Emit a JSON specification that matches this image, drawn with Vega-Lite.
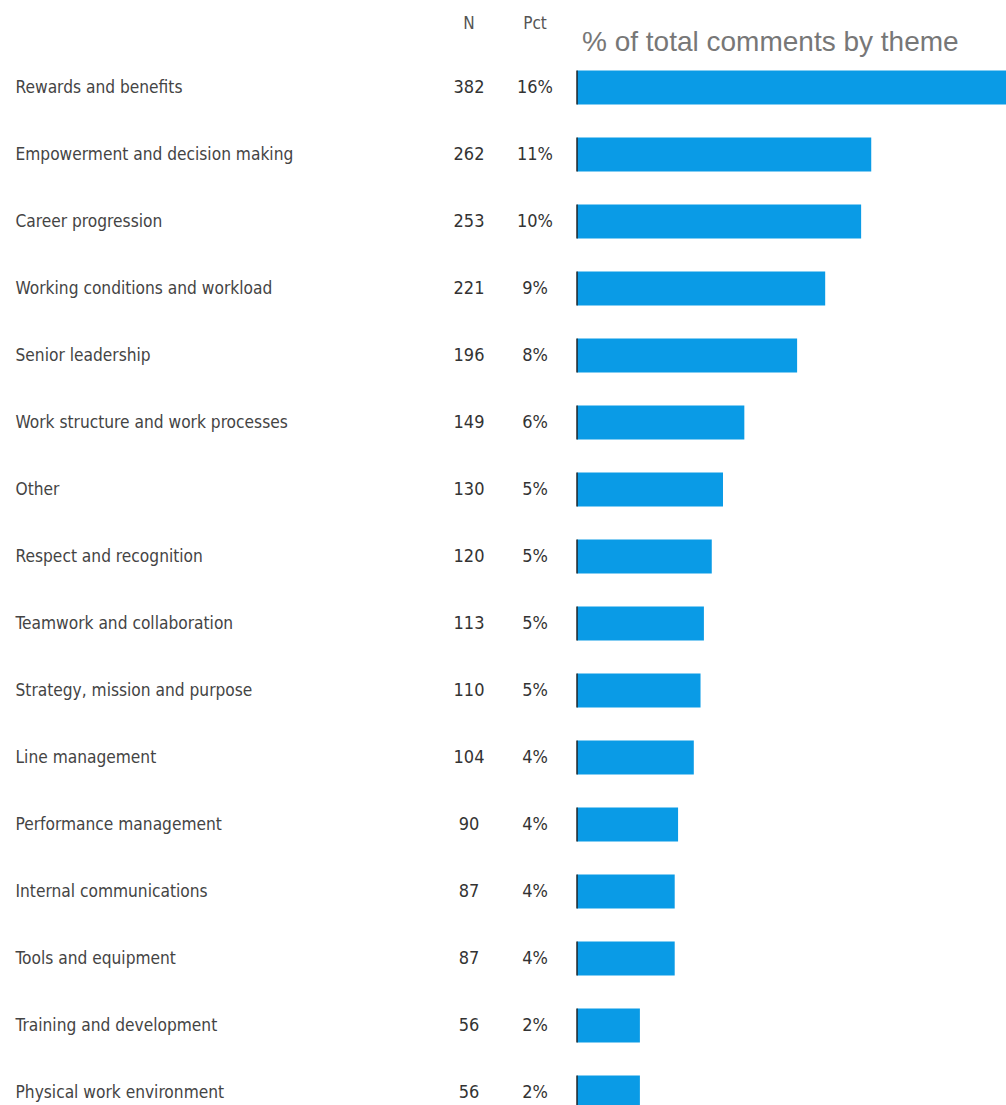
{
  "$schema": "https://vega.github.io/schema/vega-lite/v6.json",
  "padding": {"left": 15, "top": 14, "right": 0, "bottom": 0},
  "background": "white",
  "config": {"view": {"stroke": null}},
  "spacing": 9,
  "bounds": "flush",
  "data": {"values": [
    {"theme": "Rewards and benefits", "n": 382, "pct": "16%"},
    {"theme": "Empowerment and decision making", "n": 262, "pct": "11%"},
    {"theme": "Career progression", "n": 253, "pct": "10%"},
    {"theme": "Working conditions and workload", "n": 221, "pct": "9%"},
    {"theme": "Senior leadership", "n": 196, "pct": "8%"},
    {"theme": "Work structure and work processes", "n": 149, "pct": "6%"},
    {"theme": "Other", "n": 130, "pct": "5%"},
    {"theme": "Respect and recognition", "n": 120, "pct": "5%"},
    {"theme": "Teamwork and collaboration", "n": 113, "pct": "5%"},
    {"theme": "Strategy, mission and purpose", "n": 110, "pct": "5%"},
    {"theme": "Line management", "n": 104, "pct": "4%"},
    {"theme": "Performance management", "n": 90, "pct": "4%"},
    {"theme": "Internal communications", "n": 87, "pct": "4%"},
    {"theme": "Tools and equipment", "n": 87, "pct": "4%"},
    {"theme": "Training and development", "n": 56, "pct": "2%"},
    {"theme": "Physical work environment", "n": 56, "pct": "2%"}
  ]},
  "hconcat": [
    {
      "width": 132,
      "height": 1072,
      "layer": [
        {
          "mark": {"type": "text", "font": "Liberation Sans Narrow, DejaVu Sans Condensed, sans-serif", "fontSize": 18, "color": "#333"},
          "encoding": {
            "x": {"datum": "N", "type": "nominal",
              "scale": {"type": "band", "domain": ["N", "Pct"], "paddingInner": 0, "paddingOuter": 0},
              "axis": {"orient": "top", "title": null, "ticks": false, "tickSize": 0, "domain": false, "labelPadding": 26, "labelBaseline": "alphabetic", "labelAngle": 0, "labelFont": "Liberation Sans Narrow, DejaVu Sans Condensed, sans-serif", "labelFontSize": 17, "labelColor": "#555"}},
            "y": {"field": "theme", "type": "nominal", "sort": null,
              "scale": {"type": "band", "paddingInner": 0.49, "paddingOuter": 0.245},
              "axis": {"orient": "left", "title": null, "ticks": false, "tickSize": 0, "domain": false, "labelAlign": "left", "labelPadding": 421, "labelLimit": 400, "labelFont": "Liberation Sans Narrow, DejaVu Sans Condensed, sans-serif", "labelFontSize": 17.2, "labelColor": "#444"}},
            "text": {"field": "n", "type": "quantitative"}
          }
        },
        {
          "mark": {"type": "text", "font": "Liberation Sans Narrow, DejaVu Sans Condensed, sans-serif", "fontSize": 18, "color": "#333"},
          "encoding": {
            "x": {"datum": "Pct", "type": "nominal"},
            "y": {"field": "theme", "type": "nominal", "sort": null},
            "text": {"field": "pct", "type": "nominal"}
          }
        }
      ]
    },
    {
      "width": 429,
      "height": 1072,
      "title": {"text": "% of total comments by theme", "anchor": "start", "frame": "group", "font": "Liberation Sans, Arial, sans-serif", "fontSize": 28, "fontWeight": "normal", "color": "#777", "offset": 0, "dx": 5, "dy": 3},
      "layer": [
        {
          "mark": {"type": "bar", "color": "#0a9be6"},
          "encoding": {
            "x": {"field": "n", "type": "quantitative", "scale": {"domain": [0, 382], "nice": false, "zero": true}, "axis": null},
            "y": {"field": "theme", "type": "nominal", "sort": null,
              "scale": {"type": "band", "paddingInner": 0.49, "paddingOuter": 0.245},
              "axis": null}
          }
        },
        {
          "mark": {"type": "tick", "orient": "vertical", "size": 34, "thickness": 2, "color": "#1a1a1a"},
          "encoding": {
            "x": {"datum": 0, "type": "quantitative"},
            "y": {"field": "theme", "type": "nominal", "sort": null}
          }
        }
      ]
    }
  ]
}
